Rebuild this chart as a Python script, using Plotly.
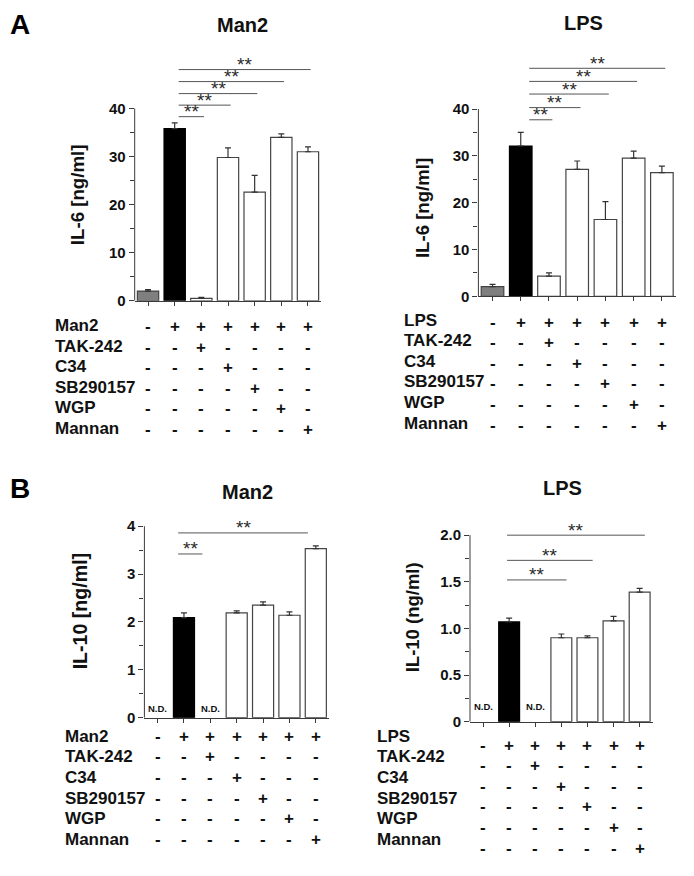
import plotly.graph_objects as go

# ---------------- data ----------------
categories = ["Control", "Stim", "TAK-242", "C34", "SB290157", "WGP", "Mannan"]

row_labels_man2 = ["Man2", "TAK-242", "C34", "SB290157", "WGP", "Mannan"]
row_labels_lps = ["LPS", "TAK-242", "C34", "SB290157", "WGP", "Mannan"]
treatment_table = [
    ["-", "+", "+", "+", "+", "+", "+"],
    ["-", "-", "+", "-", "-", "-", "-"],
    ["-", "-", "-", "+", "-", "-", "-"],
    ["-", "-", "-", "-", "+", "-", "-"],
    ["-", "-", "-", "-", "-", "+", "-"],
    ["-", "-", "-", "-", "-", "-", "+"],
]

il6_man2 = [2.0, 35.8, 0.5, 29.8, 22.6, 34.0, 31.0]
il6_man2_sem = [0.3, 1.2, 0.2, 2.0, 3.5, 0.7, 1.0]
il6_lps = [2.05, 32.1, 4.3, 27.1, 16.4, 29.5, 26.4]
il6_lps_sem = [0.5, 2.9, 0.7, 1.8, 3.8, 1.5, 1.4]
il10_man2 = [None, 2.09, None, 2.19, 2.35, 2.14, 3.53]
il10_man2_sem = [None, 0.10, None, 0.04, 0.07, 0.07, 0.06]
il10_lps = [None, 1.07, None, 0.90, 0.90, 1.08, 1.39]
il10_lps_sem = [None, 0.04, None, 0.04, 0.02, 0.05, 0.04]

sig_il6_man2 = ["TAK-242", "C34", "SB290157", "WGP", "Mannan"]
sig_il6_lps = ["TAK-242", "C34", "SB290157", "WGP", "Mannan"]
sig_il10_man2 = ["TAK-242", "Mannan"]
sig_il10_lps = ["C34", "SB290157", "Mannan"]

il6_ticks = [0, 10, 20, 30, 40]
il6_minor = [5, 15, 25, 35]
il10_man2_ticks = [0, 1, 2, 3, 4]
il10_man2_minor = [0.5, 1.5, 2.5, 3.5]
il10_lps_ticks = [0, 0.5, 1.0, 1.5, 2.0]
il10_lps_ticktext = ["0", "0.5", "1.0", "1.5", "2.0"]
il10_lps_minor = [0.25, 0.75, 1.25, 1.75]

# ---------------- layout / style ----------------
W, H = 694, 876
FONT = "Liberation Sans, Arial, sans-serif"
AX = "#3a3a3a"


def fx(p):
    return p / W


def fy(p):
    return 1 - p / H


panels = [
    dict(xa="x", ya="y", vals=il6_man2, sem=il6_man2_sem, colors=["#7f7f7f", "#000000"] + ["#ffffff"] * 5,
         xdom=(134.7, 321.3), ydom=(303.5, 51.3), yrange=(0, 52), ymax=40,
         tickvals=il6_ticks, ticktext=[str(t) for t in il6_ticks], minor=il6_minor,
         sig=sig_il6_man2, levels=[38.3, 40.7, 43.1, 45.6, 48.1], soff=(0.15, 0.1),
         title="Man2", tpos=(242, 25), ylabel="IL-6 [ng/ml]", ylpos=(77, 197), ylsize=18.7,
         rows=row_labels_man2, rowx=53, rowy=329, rowgap=20.6, symoff=1, nd=None),
    dict(xa="x2", ya="y2", vals=il6_lps, sem=il6_lps_sem, colors=["#7f7f7f", "#000000"] + ["#ffffff"] * 5,
         xdom=(478.4, 676.0), ydom=(299.0, 48.6), yrange=(0, 53), ymax=40,
         tickvals=il6_ticks, ticktext=[str(t) for t in il6_ticks], minor=il6_minor,
         sig=sig_il6_lps, levels=[37.7, 40.3, 43.2, 45.9, 48.7], soff=(0.3, 0.12),
         title="LPS", tpos=(583, 23), ylabel="IL-6 [ng/ml]", ylpos=(422, 210), ylsize=18.6,
         rows=row_labels_lps, rowx=402, rowy=323, rowgap=20.8, symoff=2, nd=None),
    dict(xa="x3", ya="y3", vals=il10_man2, sem=il10_man2_sem, colors=["#ffffff", "#000000"] + ["#ffffff"] * 5,
         xdom=(144.4, 329.0), ydom=(724.3, 521.4), yrange=(0, 4.2), ymax=4,
         tickvals=il10_man2_ticks, ticktext=[str(t) for t in il10_man2_ticks], minor=il10_man2_minor,
         sig=sig_il10_man2, levels=[3.42, 3.86], soff=(-0.22, -0.3),
         title="Man2", tpos=(247, 497), ylabel="IL-10 [ng/ml]", ylpos=(80, 617), ylsize=19.6,
         rows=row_labels_man2, rowx=63, rowy=743, rowgap=20.8, symoff=0, nd=715),
    dict(xa="x4", ya="y4", vals=il10_lps, sem=il10_lps_sem, colors=["#ffffff", "#000000"] + ["#ffffff"] * 5,
         xdom=(470.0, 652.7), ydom=(728.3, 530.7), yrange=(0, 2.1), ymax=2.0,
         tickvals=il10_lps_ticks, ticktext=il10_lps_ticktext, minor=il10_lps_minor,
         sig=sig_il10_lps, levels=[1.52, 1.73, 2.0], soff=(-0.08, 0.2),
         title="LPS", tpos=(562, 492), ylabel="IL-10 (ng/ml)", ylpos=(412, 623), ylsize=18.5,
         rows=row_labels_lps, rowx=375, rowy=743, rowgap=20.8, symoff=9, nd=713),
]

fig = go.Figure()
shapes = []
annotations = []
layout_axes = {}

for i, p in enumerate(panels):
    xa, ya = p["xa"], p["ya"]
    line_colors = ["#000000" if c == "#000000" else "#444444" for c in p["colors"]]
    fig.add_trace(go.Bar(
        x=categories, y=p["vals"], width=0.8,
        marker=dict(color=p["colors"], line=dict(color=line_colors, width=1.2)),
        error_y=dict(type="data", symmetric=False, array=p["sem"],
                     arrayminus=[0] * len(categories), color="#333333", thickness=1.2, width=3),
        xaxis=xa, yaxis=ya, showlegend=False, hoverinfo="skip",
    ))
    xkey = "xaxis" + xa[1:]
    ykey = "yaxis" + ya[1:]
    layout_axes[xkey] = dict(
        domain=[fx(p["xdom"][0]), fx(p["xdom"][1])], anchor=ya, type="category",
        range=[-0.5, 6.5], showline=True, linecolor=AX, linewidth=1,
        ticks="outside", ticklen=4, tickcolor=AX, showticklabels=False,
        showgrid=False, zeroline=False, fixedrange=True,
    )
    layout_axes[ykey] = dict(
        domain=[fy(p["ydom"][0]), fy(p["ydom"][1])], anchor=xa,
        range=list(p["yrange"]), showline=False, showgrid=False, zeroline=False,
        tickmode="array", tickvals=p["tickvals"], ticktext=p["ticktext"],
        ticks="outside", ticklen=5, tickcolor=AX, tickwidth=1,
        minor=dict(tickvals=p["minor"], ticks="outside", ticklen=4, tickcolor=AX),
        tickfont=dict(family=FONT, size=15, color="#111", weight="bold"),
        fixedrange=True,
    )
    # y axis line up to the top labelled tick
    shapes.append(dict(type="line", xref=xa + " domain", yref=ya, x0=0, x1=0,
                       y0=0, y1=p["ymax"], line=dict(color=AX, width=1)))
    # significance brackets
    stim = categories.index("Stim")
    for lvl, target in zip(p["levels"], p["sig"]):
        t = categories.index(target)
        x0 = stim + p["soff"][0]
        x1 = t + p["soff"][1]
        shapes.append(dict(type="line", xref=xa, yref=ya, x0=x0, x1=x1, y0=lvl, y1=lvl,
                           line=dict(color="#555555", width=1)))
        annotations.append(dict(xref=xa, yref=ya, x=(x0 + x1) / 2, y=lvl, text="**",
                                showarrow=False, yanchor="middle", yshift=5,
                                font=dict(family=FONT, size=19, color="#2a2a2a")))
    # title
    annotations.append(dict(xref="paper", yref="paper", x=fx(p["tpos"][0]), y=fy(p["tpos"][1]),
                            text=p["title"], showarrow=False, xanchor="center", yanchor="middle",
                            font=dict(family=FONT, size=20, color="#111", weight="bold")))
    # y label
    annotations.append(dict(xref="paper", yref="paper", x=fx(p["ylpos"][0]), y=fy(p["ylpos"][1]),
                            text=p["ylabel"], textangle=-90, showarrow=False,
                            xanchor="center", yanchor="middle",
                            font=dict(family=FONT, size=p["ylsize"], color="#111", weight="bold")))
    # treatment table
    for r, lab in enumerate(p["rows"]):
        ry = p["rowy"] + r * p["rowgap"]
        annotations.append(dict(xref="paper", yref="paper", x=fx(p["rowx"]), y=fy(ry),
                                text=lab, showarrow=False, xanchor="left", yanchor="middle",
                                font=dict(family=FONT, size=17, color="#111", weight="bold")))
        for c, sym in enumerate(treatment_table[r]):
            annotations.append(dict(xref=xa, yref="paper", x=c, y=fy(ry + p["symoff"]),
                                    text=sym, showarrow=False, xanchor="center", yanchor="middle",
                                    font=dict(family=FONT, size=17, color="#111", weight="bold")))
    # not detected labels
    if p["nd"] is not None:
        for c, v in enumerate(p["vals"]):
            if v is None:
                annotations.append(dict(xref=xa, yref="paper", x=c, y=fy(p["nd"]),
                                        text="N.D.", showarrow=False, xanchor="center", yanchor="middle",
                                        font=dict(family=FONT, size=9.5, color="#111", weight="bold")))

# panel letters
annotations.append(dict(xref="paper", yref="paper", x=fx(20), y=fy(25), text="A", showarrow=False,
                        xanchor="center", yanchor="middle",
                        font=dict(family=FONT, size=28, color="#000", weight="bold")))
annotations.append(dict(xref="paper", yref="paper", x=fx(20), y=fy(493), text="B", showarrow=False,
                        xanchor="center", yanchor="middle",
                        font=dict(family=FONT, size=28, color="#000", weight="bold")))

fig.update_layout(
    width=W, height=H, margin=dict(l=0, r=0, t=0, b=0),
    paper_bgcolor="white", plot_bgcolor="white",
    shapes=shapes, annotations=annotations, bargap=0.2, hovermode=False,
    **layout_axes,
)

fig.write_html("out.html", config={"displayModeBar": False},
               post_script="document.body.style.margin='0';document.body.style.overflow='hidden';")
